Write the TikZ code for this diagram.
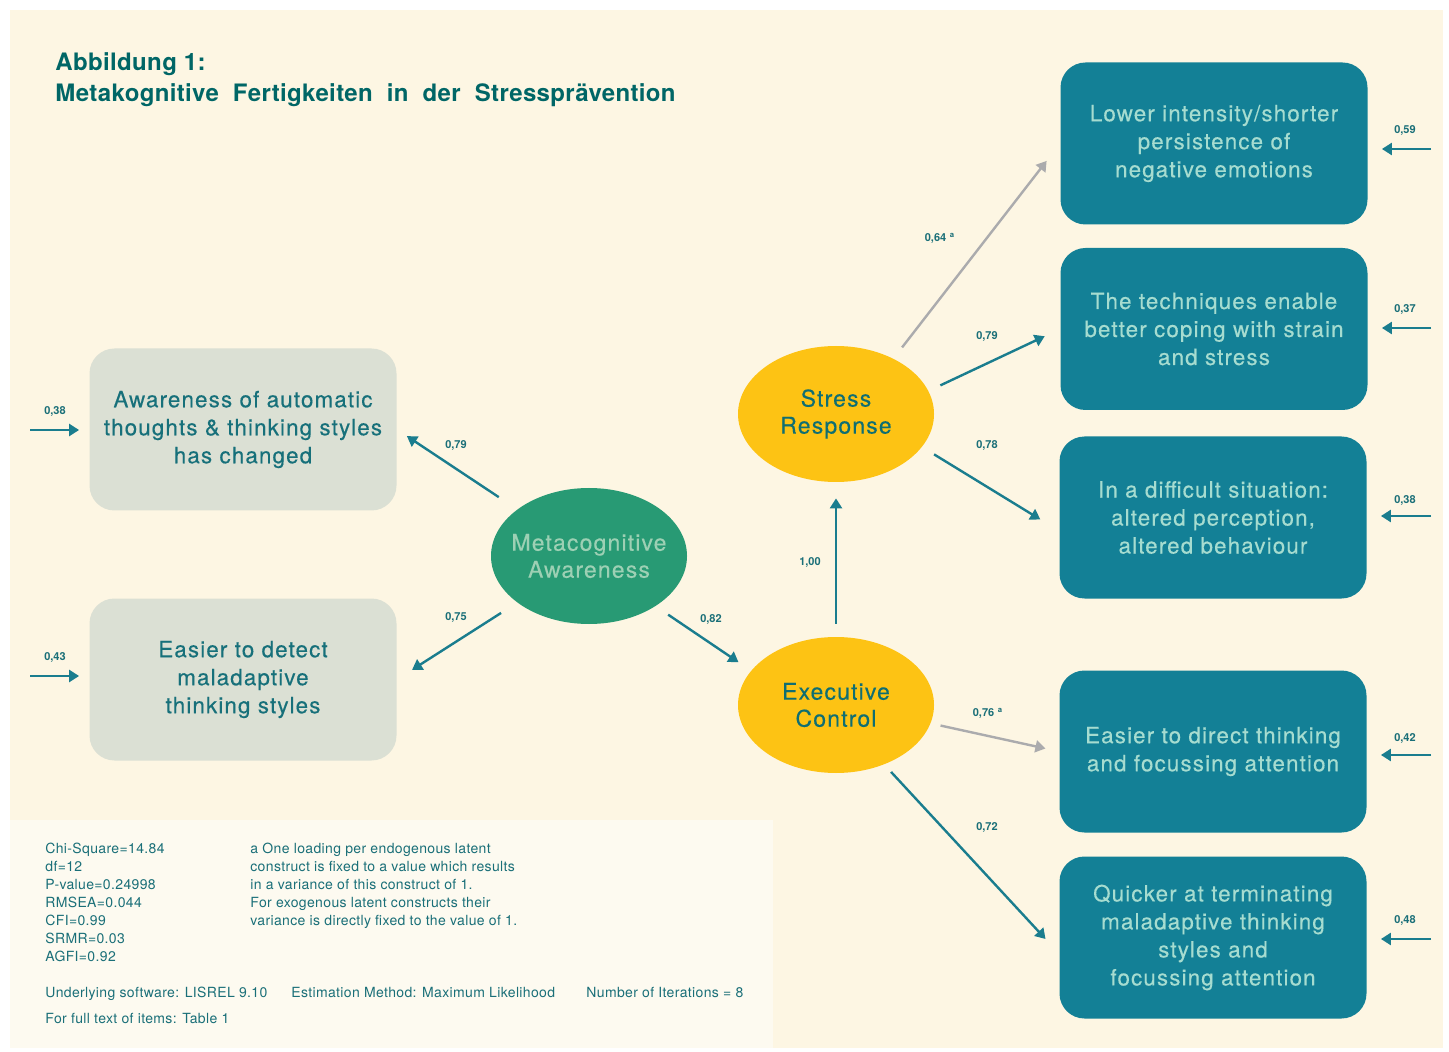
\documentclass[tikz,border=0pt]{standalone}
\usepackage{fontspec}
\setmainfont{TeX Gyre Heros}
\newfontfamily\widefont[LetterSpace=5, FakeBold=0.3]{TeX Gyre Heros}
\newfontfamily\headfont[LetterSpace=1.5]{TeX Gyre Heros}
\newfontfamily\notefont[LetterSpace=2.5]{TeX Gyre Heros}
\usetikzlibrary{calc, positioning, shapes.geometric, arrows.meta}

\definecolor{paper}{RGB}{253,246,227}
\definecolor{notepaper}{RGB}{253,250,240}
\definecolor{headteal}{RGB}{0,102,102}
\definecolor{boxteal}{RGB}{19,128,150}
\definecolor{boxtext}{RGB}{166,220,208}
\definecolor{sage}{RGB}{219,224,212}
\definecolor{sagetext}{RGB}{23,112,122}
\definecolor{metagreen}{RGB}{40,154,116}
\definecolor{metatext}{RGB}{157,208,180}
\definecolor{amber}{RGB}{253,195,20}
\definecolor{ambertext}{RGB}{15,110,114}
\definecolor{arrowteal}{RGB}{26,125,142}
\definecolor{arrowgrey}{RGB}{171,171,173}
\definecolor{labelteal}{RGB}{26,111,120}

\begin{document}
\begin{tikzpicture}[x=0.5pt, y=-0.5pt]
    \tikzset{
      outcome/.style={
        rectangle, rounded corners=12.5pt, inner sep=0pt,
        minimum width=153.5pt, minimum height=81pt, align=center,
        fill=boxteal, text=boxtext, font=\widefont\fontsize{11.2}{14}\selectfont,
      },
      indicator/.style={
        outcome, fill=sage, text=sagetext,
      },
      construct/.style={
        ellipse, inner sep=0pt, minimum width=98pt, minimum height=68pt,
      },
      caption/.style={
        inner sep=0pt, align=center, font=\widefont\fontsize{11.5}{13.5}\selectfont,
      },
      link/.style={
        -{Triangle[length=5pt,width=6pt]}, draw, line width=1.2pt,
        draw=arrowteal,
      },
      fixed/.style={
        link, draw=arrowgrey,
      },
      coef/.style={
        font=\fontsize{5.5}{6}\selectfont\bfseries, text=labelteal,
      },
      heading/.style={
        anchor=base west, inner sep=0pt, text=headteal,
        font=\headfont\fontsize{12}{14}\selectfont\bfseries,
      },
      note/.style={
        anchor=north west, inner sep=0pt, align=left, text=labelteal,
        font=\notefont\fontsize{7}{9}\selectfont,
      },
    }

    % page and note area
    \useasboundingbox[fill=white] (0,0) rectangle (1449,1052);
    \fill[paper] (10,10) rectangle (1443,1048);
    \fill[notepaper] (10,820) rectangle (773,1048);

    \node[heading] (title1) at (55,71) {Abbildung 1:};
    \node[heading] (title2) at (55,102) {Metakognitive\ \ Fertigkeiten\ \ in\ \ der\ \ Stressprävention};

    % latent constructs
    \node[construct, fill=metagreen] (meta) at (589,556) {};
    \node[caption, text=metatext] (metaname) at (meta) {Metacognitive\\Awareness};
    \node[construct, fill=amber] (stress) at (836,414) {};
    \node[caption, text=ambertext] (stressname) at (stress) {Stress\\Response};
    \node[construct, fill=amber] (exec) at (836,705) {};
    \node[caption, text=ambertext] (execname) at (exec) {Executive\\Control};

    % indicators
    \node[indicator] (aware) at (243,429.5) {Awareness of automatic\\thoughts \& thinking styles\\has changed};
    \node[indicator] (detect) at (243,679.5) {Easier to detect\\maladaptive\\thinking styles};

    \node[outcome] (lower) at (1214,143.5) {Lower intensity/shorter\\persistence of\\negative emotions};
    \node[outcome] (cope) at (1214,329) {The techniques enable\\better coping with strain\\and stress};
    \node[outcome] (situation) at (1213,517.5) {In a difficult situation:\\altered perception,\\altered behaviour};
    \node[outcome] (direct) at (1213,751.5) {Easier to direct thinking\\and focussing attention};
    \node[outcome] (quicker) at (1213,937.5) {Quicker at terminating\\maladaptive thinking\\styles and\\focussing attention};

    % loadings
    \draw[link, shorten <=11pt, shorten >=6pt] (meta.147) -- (aware.east);
    \node[coef] at (456,445) {0,79};
    \draw[link, shorten <=9.5pt, shorten >=9pt] (meta.213) -- (detect.east);
    \node[coef] at (456,617) {0,75};
    \draw[link, shorten <=7.5pt, shorten >=7.5pt] (meta.323) -- (exec.158);
    \node[coef] at (711,619) {0,82};
    \draw[link, shorten <=6.5pt, shorten >=8pt] (exec.north) -- (stress.south);
    \node[coef] at (810,562) {1,00};

    \draw[fixed, shorten <=7pt, shorten >=11pt] (stress.44) -- (lower.west);
    \node[coef] at (940,238) {0,64\,\,\textsuperscript{a}};
    \draw[link, shorten <=6.5pt, shorten >=8.5pt] (stress.14) -- (cope.west);
    \node[coef] at (987,336) {0,79};
    \draw[link, shorten <=7pt, shorten >=11pt] (stress.339) -- (situation.185);
    \node[coef] at (987,445) {0,78};

    \draw[fixed, shorten <=5pt, shorten >=7pt] (exec.349) -- (direct.west);
    \node[coef] at (988,713) {0,76\,\,\textsuperscript{a}};
    \draw[link, shorten <=5pt, shorten >=10pt] (exec.309) -- (quicker.186);
    \node[coef] at (987,827) {0,72};

    % error terms
    \coordinate (d1) at (30,430);
    \draw[link, shorten >=5pt] (d1) -- (d1 -| aware.west);
    \node[coef] at (55,411) {0,38};
    \coordinate (d2) at (30,676);
    \draw[link, shorten >=5pt] (d2) -- (d2 -| detect.west);
    \node[coef] at (55,657) {0,43};

    \coordinate (e1) at (1431,149);
    \draw[link, shorten >=7pt] (e1) -- (e1 -| lower.east);
    \node[coef] at (1405,130) {0,59};
    \coordinate (e2) at (1431,328);
    \draw[link, shorten >=7pt] (e2) -- (e2 -| cope.east);
    \node[coef] at (1405,309) {0,37};
    \coordinate (e3) at (1431,516);
    \draw[link, shorten >=7pt] (e3) -- (e3 -| situation.east);
    \node[coef] at (1405,500) {0,38};
    \coordinate (e4) at (1431,755);
    \draw[link, shorten >=7pt] (e4) -- (e4 -| direct.east);
    \node[coef] at (1405,738) {0,42};
    \coordinate (e5) at (1431,939);
    \draw[link, shorten >=7pt] (e5) -- (e5 -| quicker.east);
    \node[coef] at (1405,920) {0,48};

    % fit statistics
    \node[note] (fit) at (45,843) {Chi-Square=14.84\\df=12\\P-value=0.24998\\RMSEA=0.044\\CFI=0.99\\SRMR=0.03\\AGFI=0.92};
    \node[note] (footnote) at (250,843) {a One loading per endogenous latent\\construct is fixed to a value which results\\in a variance of this construct of 1.\\For exogenous latent constructs their\\variance is directly fixed to the value of 1.};
    \node[note] (software) at (45,987) {Underlying software: LISREL 9.10};
    \node[note] (method) at (291,987) {Estimation Method: Maximum Likelihood};
    \node[note] (iter) at (586,987) {Number of Iterations = 8};
    \node[note] (items) at (45,1013) {For full text of items: Table 1};
\end{tikzpicture}
\end{document}
